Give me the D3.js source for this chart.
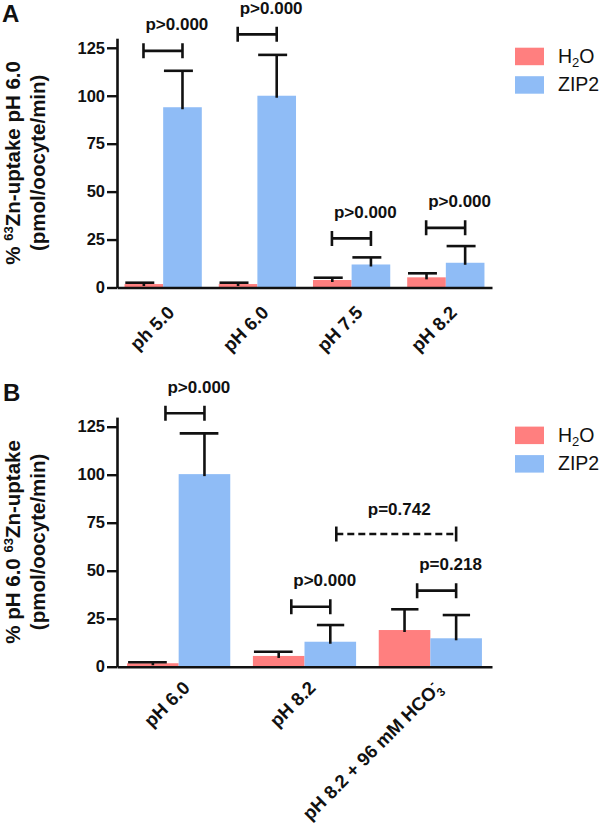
<!DOCTYPE html>
<html><head><meta charset="utf-8">
<script src="https://cdn.jsdelivr.net/npm/d3@7"></script>
<style>
body{margin:0;background:#fff;}
text{font-family:"Liberation Sans",Arial,sans-serif;}
</style></head>
<body><svg id="c" width="600" height="829"></svg>
<script>
// ---------- DATA ----------
const seriesNames = ["H2O", "ZIP2"];
const catsA = ["ph 5.0", "pH 6.0", "pH 7.5", "pH 8.2"];
const h2oA = [1.8, 1.8, 3.9, 5.3];
const h2oHiA = [2.5, 2.5, 5.1, 7.4];
const zipA = [94, 100, 12, 12.9];
const zipHiA = [113, 121.3, 15.7, 21.6];
const sigLabelsA = ["p>0.000", "p>0.000", "p>0.000", "p>0.000"];
const sigLevelsA = [123.4, 132, 25.6, 31.1];

const catsB = ["pH 6.0", "pH 8.2", "pH 8.2 + 96 mM HCO3-"];
const h2oB = [1.8, 5.6, 19.1];
const h2oHiB = [2.3, 7.8, 29.9];
const zipB = [100.3, 13.0, 14.8];
const zipHiB = [121.5, 21.7, 26.9];
const sigLabelsB = ["p>0.000", "p>0.000", "p=0.218"];
const sigLevelsB = [132, 31.25, 39.6];
const dashedLabelB = "p=0.742";
const dashedLevelB = 69.1;

const yTicks = [0, 25, 50, 75, 100, 125];
const yMax = 130;

// ---------- STYLE ----------
const RED = "#FF7F7F", BLUE = "#8FBCF6";
const svg = d3.select("#c");

function addSup(sel, before, sup, after) {
  sel.append("tspan").text(before);
  sel.append("tspan").attr("font-size", "13px").attr("dy", "-7.5").text(sup);
  sel.append("tspan").attr("dy", "7.5").text(after);
}

function drawPanel(o) {
  const g = svg.append("g");
  const x0 = 117, x1 = 492;
  const y = d3.scaleLinear().domain([0, yMax]).range([o.bottom, o.top]);
  const xb = d3.scaleBand().domain(o.cats).range([x0, x1]).paddingInner(0.18).paddingOuter(0.08);
  const xs = d3.scaleBand().domain(seriesNames).range([0, xb.bandwidth()]);
  const bw = xs.bandwidth();

  const series = [
    {name: "H2O", vals: o.h2o, hi: o.h2oHi, color: RED},
    {name: "ZIP2", vals: o.zip, hi: o.zipHi, color: BLUE}
  ];
  series.forEach(s => {
    g.selectAll(null).data(o.cats).enter().append("rect")
      .attr("x", c => xb(c) + xs(s.name))
      .attr("y", (c, i) => y(s.vals[i]))
      .attr("width", bw)
      .attr("height", (c, i) => y(0) - y(s.vals[i]))
      .attr("fill", s.color);
  });
  // error bars
  series.forEach((s, si) => {
    o.cats.forEach((c, i) => {
      const cx = xb(c) + xs(s.name) + bw / 2;
      const sym = o.symCaps && o.symCaps[si][i];
      const cl = sym ? cx - bw * 0.26 : cx - bw * 0.48;
      const cr = cx + bw * 0.27;
      g.append("line").attr("x1", cx).attr("x2", cx)
        .attr("y1", y(s.vals[i]) + 2).attr("y2", y(s.hi[i]))
        .attr("stroke", "#111").attr("stroke-width", 2.6);
      g.append("line").attr("x1", cl).attr("x2", cr)
        .attr("y1", y(s.hi[i])).attr("y2", y(s.hi[i]))
        .attr("stroke", "#111").attr("stroke-width", 2.6);
    });
  });

  // axes
  const ya = g.append("g").attr("transform", `translate(${x0},0)`)
    .call(d3.axisLeft(y).tickValues(yTicks).tickSize(10).tickSizeOuter(0).tickPadding(2));
  ya.select(".domain").attr("stroke", "#111").attr("stroke-width", 2.6);
  ya.selectAll(".tick line").attr("stroke", "#111").attr("stroke-width", 2.4);
  ya.selectAll(".tick text").attr("font-size", "16.5px").attr("font-weight", "bold").attr("fill", "#111")
    .attr("font-family", "Liberation Sans, Arial, sans-serif");

  const xa = g.append("g").attr("transform", `translate(0,${o.bottom})`)
    .call(d3.axisBottom(xb).tickSize(0).tickSizeOuter(0).tickFormat(""));
  xa.select(".domain").attr("stroke", "#111").attr("stroke-width", 2.6);

  // x labels
  o.cats.forEach(c => {
    const cx = xb(c) + xb.bandwidth() / 2;
    const t = g.append("text")
      .attr("transform", `translate(${cx + 3},${o.bottom + o.labOff}) rotate(-45)`)
      .attr("text-anchor", "end").attr("dy", "0.71em")
      .attr("font-size", "18.5px").attr("font-weight", "bold").attr("fill", "#111");
    if (c.endsWith("HCO3-")) {
      t.append("tspan").text(c.slice(0, -2));
      t.append("tspan").attr("font-size", "12px").attr("dy", "5").text("3");
      t.append("tspan").attr("font-size", "12px").attr("dy", "-13").attr("dx", "-6").text("-");
    } else {
      t.text(c);
    }
  });

  // significance brackets
  o.cats.forEach((c, i) => {
    const xr = xb(c) + xs("ZIP2") + bw / 2;
    const xl = xr - 39;
    const yy = y(o.sigLevels[i]);
    const p = d3.path();
    p.moveTo(xl, yy); p.lineTo(xr, yy);
    p.moveTo(xl, yy - 7.5); p.lineTo(xl, yy + 7.5);
    p.moveTo(xr, yy - 7.5); p.lineTo(xr, yy + 7.5);
    g.append("path").attr("d", p.toString()).attr("stroke", "#111").attr("stroke-width", 2.6).attr("fill", "none");
    g.append("text").attr("x", xl + 2).attr("y", yy - 20.5)
      .attr("font-size", "17px").attr("font-weight", "bold").attr("fill", "#111")
      .text(o.sigLabels[i]);
  });
  if (o.dashedLabel) {
    const xl = xb(o.cats[1]) + xs("ZIP2") + bw / 2 + 6;
    const xr = xb(o.cats[2]) + xs("ZIP2") + bw / 2;
    const yy = y(o.dashedLevel);
    g.append("line").attr("x1", xl).attr("x2", xr).attr("y1", yy).attr("y2", yy)
      .attr("stroke", "#111").attr("stroke-width", 2.6).attr("stroke-dasharray", "7,4");
    [xl, xr].forEach(xx => g.append("line").attr("x1", xx).attr("x2", xx)
      .attr("y1", yy - 7.5).attr("y2", yy + 7.5).attr("stroke", "#111").attr("stroke-width", 2.6));
    g.append("text").attr("x", (xl + xr) / 2 + 3).attr("y", yy - 19).attr("text-anchor", "middle")
      .attr("font-size", "17px").attr("font-weight", "bold").attr("fill", "#111")
      .text(o.dashedLabel);
  }

  // y title
  const cy = (o.top + o.bottom) / 2;
  const t1 = g.append("text").attr("transform", `translate(20,${cy}) rotate(-90)`)
    .attr("text-anchor", "middle").attr("font-size", "20.5px").attr("font-weight", "bold").attr("fill", "#111");
  addSup(t1, o.title1[0], o.title1[1], o.title1[2]);
  g.append("text").attr("transform", `translate(44.5,${cy}) rotate(-90)`)
    .attr("text-anchor", "middle").attr("font-size", "20.5px").attr("font-weight", "bold").attr("fill", "#111")
    .text("(pmol/oocyte/min)");

  // legend
  const lg = g.append("g").attr("transform", `translate(515,${o.top})`);
  [["H2O", RED], ["ZIP2", BLUE]].forEach((d, i) => {
    lg.append("rect").attr("x", 0).attr("y", 9.5 + i * 28.5).attr("width", 29).attr("height", 17.5).attr("fill", d[1]);
    const t = lg.append("text").attr("x", 43).attr("y", 24.5 + i * 28.2)
      .attr("font-size", "19.5px").attr("fill", "#111");
    if (d[0] === "H2O") {
      t.append("tspan").text("H");
      t.append("tspan").attr("font-size", "13px").attr("dy", "4").text("2");
      t.append("tspan").attr("dy", "-4").text("O");
    } else t.text(d[0]);
  });

  // panel letter
  svg.append("text").attr("x", o.letterX).attr("y", o.letterY)
    .attr("font-size", "24px").attr("font-weight", "bold").attr("fill", "#111")
    .attr("font-family", "Open Sans, Liberation Sans, sans-serif").text(o.letter);
}

drawPanel({
  cats: catsA, h2o: h2oA, h2oHi: h2oHiA, zip: zipA, zipHi: zipHiA,
  sigLabels: sigLabelsA, sigLevels: sigLevelsA,
  top: 38.2, bottom: 287.5, labOff: 17,
  title1: ["% ", "63", "Zn-uptake pH 6.0"],
  letter: "A", letterX: 2, letterY: 22
});
drawPanel({
  cats: catsB, h2o: h2oB, h2oHi: h2oHiB, zip: zipB, zipHi: zipHiB,
  sigLabels: sigLabelsB, sigLevels: sigLevelsB,
  dashedLabel: dashedLabelB, dashedLevel: dashedLevelB,
  symCaps: [[false, false, true], [false, true, true]],
  top: 417.1, bottom: 666.7, labOff: 13,
  title1: ["% pH 6.0 ", "63", "Zn-uptake"],
  letter: "B", letterX: 3, letterY: 401
});
</script></body></html>
